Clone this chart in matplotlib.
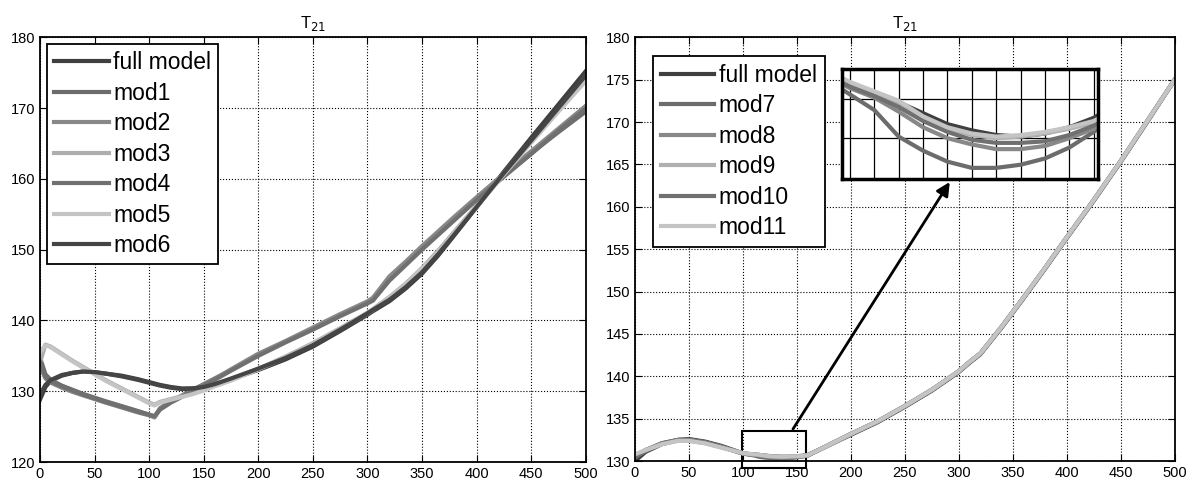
import matplotlib
matplotlib.use("Agg")
import matplotlib.pyplot as plt
import numpy as np

plt.rcParams['font.family'] = ['Liberation Sans', 'DejaVu Sans']

# left panel data
xl = [0, 5, 10, 20, 30, 40, 50, 60, 75, 90, 100, 105, 110, 120, 130, 140, 150, 160, 175,
      200, 225, 250, 275, 300, 305, 320, 335, 350, 365, 380, 400, 425, 450, 475, 500]
full_l = [128.8, 130.6, 131.5, 132.2, 132.6, 132.8, 132.7, 132.5, 132.2, 131.7, 131.3, 131.1, 130.9,
          130.6, 130.4, 130.4, 130.6, 131.0, 131.7, 133.0, 134.5, 136.3, 138.5, 140.8, 141.3, 142.7,
          144.5, 146.6, 149.2, 152.1, 156.0, 161.0, 165.8, 170.5, 175.2]
mod1 = [134.8, 132.4, 131.6, 130.8, 130.2, 129.6, 129.1, 128.6, 127.9, 127.2, 126.7, 126.4, 127.6,
        128.6, 129.4, 130.2, 131.0, 131.8, 133.0, 135.2, 137.0, 138.8, 140.7, 142.5, 142.9, 145.9,
        148.0, 150.2, 152.3, 154.4, 157.1, 160.4, 163.6, 166.6, 169.5]
mod2 = [133.5, 131.8, 131.2, 130.5, 129.9, 129.4, 128.9, 128.4, 127.7, 127.0, 126.6, 126.3, 127.5,
        128.5, 129.3, 130.1, 130.9, 131.7, 133.1, 135.3, 137.1, 139.0, 140.9, 142.7, 143.2, 146.2,
        148.3, 150.5, 152.6, 154.7, 157.4, 160.7, 163.9, 167.1, 170.3]
mod3 = [134.0, 136.6, 136.3, 135.3, 134.3, 133.4, 132.5, 131.6, 130.4, 129.2, 128.4, 128.1, 128.5,
        128.9, 129.3, 129.7, 130.2, 130.8, 131.6, 133.2, 134.9, 136.8, 138.9, 141.1, 141.6, 143.3,
        145.2, 147.4, 149.9, 152.6, 156.2, 160.8, 165.3, 169.7, 174.0]
mod4 = [134.2, 132.1, 131.4, 130.7, 130.1, 129.5, 129.0, 128.5, 127.8, 127.1, 126.7, 126.5, 127.4,
        128.4, 129.2, 130.0, 130.8, 131.6, 132.9, 135.0, 136.9, 138.7, 140.6, 142.4, 142.8, 145.6,
        147.8, 150.0, 152.1, 154.2, 157.0, 160.3, 163.5, 166.8, 169.9]
mod5 = [135.5, 136.5, 136.2, 135.2, 134.2, 133.3, 132.4, 131.5, 130.3, 129.1, 128.3, 128.0, 128.4,
        128.8, 129.2, 129.6, 130.1, 130.7, 131.5, 133.1, 134.8, 136.7, 138.8, 141.0, 141.5, 143.2,
        145.1, 147.3, 149.7, 152.4, 156.0, 160.6, 165.1, 169.5, 173.8]
mod6 = [129.5, 130.9, 131.6, 132.3, 132.6, 132.8, 132.7, 132.5, 132.1, 131.6, 131.2, 131.0, 130.8,
        130.5, 130.3, 130.4, 130.6, 131.0, 131.8, 133.2, 134.7, 136.5, 138.7, 141.0, 141.5, 142.9,
        144.7, 146.8, 149.4, 152.2, 156.0, 160.8, 165.4, 170.0, 174.6]

# right panel data
xr = [0, 10, 25, 40, 50, 65, 80, 100, 105, 110, 115, 120, 125, 130, 135, 140, 145, 150, 155, 160,
      175, 200, 225, 250, 275, 300, 310, 320, 340, 360, 380, 400, 425, 450, 475, 500]
full_r = [130.0, 131.1, 132.0, 132.5, 132.6, 132.3, 131.8, 130.92, 130.84, 130.79, 130.73, 130.66,
          130.59, 130.55, 130.52, 130.51, 130.53, 130.57, 130.63, 130.72, 131.6, 133.1, 134.6, 136.4,
          138.3, 140.5, 141.6, 142.6, 145.8, 149.2, 152.7, 156.3, 160.7, 165.3, 170.1, 175.0]
mod7 = [130.4, 131.2, 132.1, 132.5, 132.5, 132.2, 131.7, 130.88, 130.78, 130.68, 130.51, 130.42,
        130.35, 130.31, 130.31, 130.33, 130.37, 130.44, 130.54, 130.66, 131.6, 133.2, 134.7, 136.5,
        138.4, 140.6, 141.7, 142.7, 145.9, 149.3, 152.8, 156.4, 160.8, 165.4, 170.2, 175.0]
mod8 = [130.6, 131.3, 132.1, 132.5, 132.5, 132.2, 131.7, 130.90, 130.82, 130.76, 130.67, 130.57,
        130.50, 130.46, 130.43, 130.43, 130.45, 130.50, 130.56, 130.66, 131.6, 133.2, 134.7, 136.5,
        138.4, 140.6, 141.7, 142.7, 145.9, 149.3, 152.8, 156.4, 160.8, 165.4, 170.2, 175.0]
mod9 = [130.7, 131.3, 132.0, 132.4, 132.4, 132.1, 131.6, 130.93, 130.85, 130.79, 130.73, 130.63,
        130.56, 130.52, 130.50, 130.51, 130.53, 130.56, 130.60, 130.68, 131.6, 133.2, 134.7, 136.5,
        138.4, 140.6, 141.7, 142.7, 145.9, 149.3, 152.8, 156.4, 160.8, 165.4, 170.2, 175.0]
mod10 = [130.5, 131.3, 132.1, 132.5, 132.5, 132.2, 131.7, 130.91, 130.83, 130.77, 130.70, 130.61,
         130.54, 130.49, 130.47, 130.47, 130.48, 130.52, 130.58, 130.67, 131.6, 133.2, 134.7, 136.5,
         138.4, 140.6, 141.7, 142.7, 145.9, 149.3, 152.8, 156.4, 160.8, 165.4, 170.2, 175.0]
mod11 = [130.8, 131.3, 132.0, 132.4, 132.4, 132.1, 131.6, 130.94, 130.86, 130.80, 130.74, 130.64,
         130.57, 130.53, 130.51, 130.52, 130.54, 130.57, 130.61, 130.69, 131.6, 133.2, 134.7, 136.5,
         138.4, 140.6, 141.7, 142.7, 145.9, 149.3, 152.8, 156.4, 160.8, 165.4, 170.2, 175.0]

left_series = [("full model", full_l, "#3f3f3f"), ("mod1", mod1, "#6c6c6c"), ("mod2", mod2, "#888888"),
               ("mod3", mod3, "#adadad"), ("mod4", mod4, "#707070"), ("mod5", mod5, "#c4c4c4"),
               ("mod6", mod6, "#454545")]
right_series = [("full model", full_r, "#3f3f3f"), ("mod7", mod7, "#6c6c6c"), ("mod8", mod8, "#888888"),
                ("mod9", mod9, "#b0b0b0"), ("mod10", mod10, "#707070"), ("mod11", mod11, "#c4c4c4")]


def style(ax):
    ax.grid(True, color="black", linestyle=":", linewidth=0.8)
    ax.tick_params(direction="in", top=True, right=True, labelsize=10.5, length=5)
    for s in ax.spines.values():
        s.set_linewidth(1.3)
    ax.set_title(r"T$_{21}$", fontsize=12, pad=7)


fig = plt.figure(figsize=(11.89, 4.90), dpi=100)
ax1 = fig.add_axes([0.0336, 0.057, 0.459, 0.867])
ax2 = fig.add_axes([0.534, 0.059, 0.454, 0.865])

for name, y, c in left_series:
    ax1.plot(xl, y, color=c, lw=3, label=name)
ax1.set_xlim(0, 500)
ax1.set_ylim(120, 180)
ax1.set_xticks(np.arange(0, 501, 50))
ax1.set_yticks(np.arange(120, 181, 10))
style(ax1)
leg = ax1.legend(loc="upper left", fontsize=16.5, labelspacing=0.33, handlelength=2.4,
                 handletextpad=0.2, borderpad=0.3, borderaxespad=0.3, fancybox=False,
                 edgecolor="black", framealpha=1)
leg.get_frame().set_linewidth(1.3)

for name, y, c in right_series:
    ax2.plot(xr, y, color=c, lw=3, label=name)
ax2.set_xlim(0, 500)
ax2.set_ylim(130, 180)
ax2.set_xticks(np.arange(0, 501, 50))
ax2.set_yticks(np.arange(130, 181, 5))
style(ax2)
leg2 = ax2.legend(loc="upper left", fontsize=16.5, labelspacing=0.33, handlelength=2.3,
                  handletextpad=0.2, borderpad=0.35, borderaxespad=0.8, fancybox=False,
                  edgecolor="black", framealpha=1)
leg2.get_frame().set_linewidth(1.3)

# zoom box and arrow
ax2.add_patch(plt.Rectangle((99, 129.2), 59, 4.3, fill=False, ec="black", lw=1.5, clip_on=False))
ax2.annotate("", xy=(293, 163.2), xytext=(145, 133.5),
             arrowprops=dict(arrowstyle="-|>", color="black", lw=2, mutation_scale=20))

ins = ax2.inset_axes([0.383, 0.666, 0.474, 0.258])
for name, y, c in right_series:
    ins.plot(xr, y, color=c, lw=3)
ins.set_xlim(103.3, 155.8)
ins.set_ylim(130.24, 130.94)
ins.set_xticks(np.arange(105, 156, 5))
ins.set_yticks([130.5, 130.75])
ins.tick_params(length=0, labelbottom=False, labelleft=False)
ins.grid(True, color="black", linewidth=0.9)
for s in ins.spines.values():
    s.set_linewidth(2.5)

fig.savefig("out.png", dpi=100)
